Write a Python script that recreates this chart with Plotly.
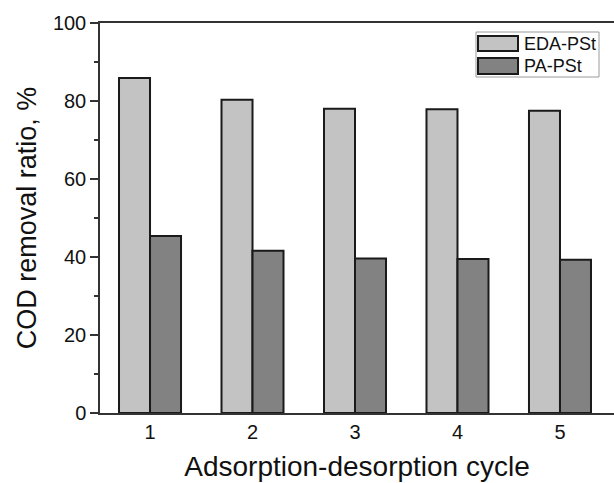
import plotly.graph_objects as go

cycles = [1, 2, 3, 4, 5]
eda_pst = [85.9, 80.3, 78.0, 77.9, 77.5]
pa_pst = [45.4, 41.6, 39.6, 39.5, 39.3]
y_ticks = [0, 20, 40, 60, 80, 100]
series_names = ["EDA-PSt", "PA-PSt"]
series_colors = ["#c3c3c3", "#828282"]

FONT = "Liberation Sans, Arial, sans-serif"
OUTLINE = "#1a1a1a"

# plot-area pixel geometry (for placing the legend in paper coords)
L, R, T, B, W, H = 100, 0, 23, 70, 614, 483
PW, PH = W - L - R, H - T - B


def px_x(px):
    return (px - L) / PW


def px_y(py):
    return 1 - (py - T) / PH


fig = go.Figure()
for name, vals, col in zip(series_names, [eda_pst, pa_pst], series_colors):
    fig.add_trace(go.Bar(x=cycles, y=vals, name=name, showlegend=False,
                         marker=dict(color=col, line=dict(color=OUTLINE, width=2))))

# custom legend (box, swatches, labels)
shapes = [dict(type="rect", xref="paper", yref="paper",
               x0=px_x(476), x1=px_x(599), y0=px_y(77), y1=px_y(32),
               line=dict(color="#9a9a9a", width=1), fillcolor="white", layer="above")]
annotations = []
rows = [(36, 51), (58, 74)]
for (y0, y1), name, col in zip(rows, series_names, series_colors):
    shapes.append(dict(type="rect", xref="paper", yref="paper",
                       x0=px_x(478), x1=px_x(518), y0=px_y(y1), y1=px_y(y0),
                       line=dict(color=OUTLINE, width=2), fillcolor=col, layer="above"))
    annotations.append(dict(xref="paper", yref="paper", x=px_x(522), y=px_y((y0 + y1) / 2),
                            xanchor="left", yanchor="middle", text=name, showarrow=False,
                            font=dict(size=18, family=FONT, color="#111111")))

fig.update_layout(
    width=W, height=H,
    margin=dict(l=L, r=R, t=T, b=B),
    paper_bgcolor="white", plot_bgcolor="white",
    barmode="group", bargap=0.395, bargroupgap=0,
    font=dict(family=FONT, color="#111111"),
    shapes=shapes, annotations=annotations,
    showlegend=False,
)
fig.update_xaxes(
    range=[0.512, 5.527], tickvals=cycles, ticktext=[str(c) for c in cycles],
    showline=True, linecolor="#333333", linewidth=1.5, mirror=True,
    ticks="", showgrid=False, zeroline=False,
    tickfont=dict(size=20, family=FONT),
    title=dict(text="Adsorption-desorption cycle", font=dict(size=28, family=FONT), standoff=15),
)
fig.update_yaxes(
    range=[0, 100], tickvals=y_ticks,
    showline=True, linecolor="#333333", linewidth=1.5, mirror=False,
    ticks="outside", ticklen=8, tickwidth=1.5, tickcolor="#333333",
    minor=dict(ticks="outside", ticklen=4, dtick=10, tickwidth=1.5, tickcolor="#333333"),
    showgrid=False, zeroline=False,
    tickfont=dict(size=20, family=FONT),
    title=dict(text="COD removal ratio, %", font=dict(size=27, family=FONT), standoff=8),
)

fig.write_html("out.html")
